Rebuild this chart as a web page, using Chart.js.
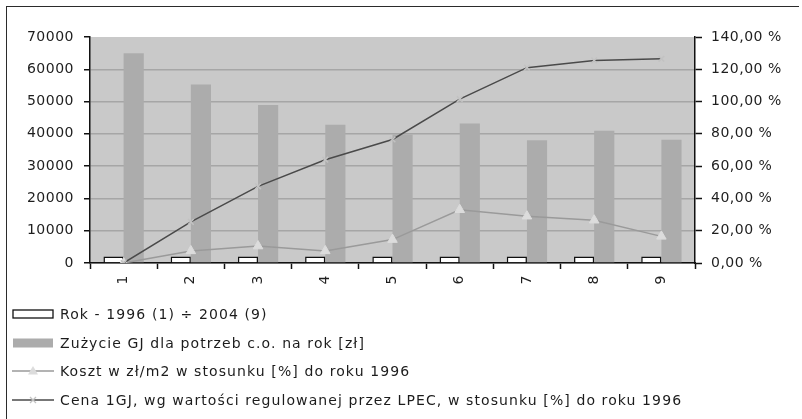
<!DOCTYPE html>
<html>
<head>
<meta charset="utf-8">
<script src="https://cdn.jsdelivr.net/npm/chart.js@4/dist/chart.umd.min.js"></script>
<style>
  html, body { margin: 0; padding: 0; background: #fff; }
  #wrap { position: relative; width: 802px; height: 419px; overflow: hidden; background: #fff; }
  #c { position: absolute; left: 0; top: 0; }
  #frame { position: absolute; left: 6px; top: 6px; width: 792px; height: 440px;
           border-top: 1.5px solid #2b2b2b; border-left: 1.5px solid #2b2b2b; pointer-events: none; }
  #legend { position: absolute; left: 12px; top: 300px; font: 14px "DejaVu Sans", sans-serif;
            letter-spacing: 1.1px; color: #1c1c1c; white-space: nowrap; }
  .row { display: flex; align-items: center; height: 28.6px; }
  .row svg { margin-right: 6px; flex: none; }
</style>
</head>
<body>
<div id="wrap">
  <canvas id="c" width="802" height="419"></canvas>
  <div id="frame"></div>
  <div id="legend"></div>
</div>
<script>
// Years 1996 (1) … 2004 (9)
const categories = ['1', '2', '3', '4', '5', '6', '7', '8', '9'];
const rokValues = [1996, 1997, 1998, 1999, 2000, 2001, 2002, 2003, 2004];
// Heating consumption per year (left axis)
const zuzycieValues = [65000, 55300, 48900, 42800, 39800, 43200, 38000, 41000, 38200];
// Percent relative to 1996 (right axis)
const kosztValues = [0, 7.5, 10.5, 7.5, 14.5, 33, 29, 26.5, 16.5];
const cenaValues = [0, 25.5, 47.5, 64, 76.5, 101.5, 121, 125.5, 126.5];

const leftTicks = [0, 10000, 20000, 30000, 40000, 50000, 60000, 70000];
const rightTicks = [0, 20, 40, 60, 80, 100, 120, 140];

const seriesLabels = [
  'Rok - 1996 (1) ÷ 2004 (9)',
  'Zużycie GJ dla potrzeb c.o. na rok [zł]',
  'Koszt w zł/m2 w stosunku [%] do roku 1996',
  'Cena 1GJ, wg wartości regulowanej przez LPEC, w stosunku [%] do roku 1996'
];

const textColor = '#1e1e1e';
const tickFont = { family: 'DejaVu Sans', size: 14 };

// Grey plot background and letter spacing for canvas text
const plotBackground = {
  id: 'plotBackground',
  beforeUpdate(chart) { chart.ctx.letterSpacing = '0.5px'; },
  beforeDraw(chart) {
    const { ctx, chartArea: a } = chart;
    ctx.letterSpacing = '0.5px';
    ctx.save();
    ctx.fillStyle = '#c9c9c9';
    ctx.fillRect(a.left, a.top, a.right - a.left, a.bottom - a.top);
    ctx.restore();
  }
};

const chart = new Chart(document.getElementById('c'), {
  type: 'bar',
  data: {
    labels: categories,
    datasets: [
      {
        type: 'bar', label: seriesLabels[0], data: rokValues, yAxisID: 'y',
        backgroundColor: '#ffffff', borderColor: '#111111', borderWidth: 1.5,
        categoryPercentage: 0.6, barPercentage: 1, order: 3
      },
      {
        type: 'bar', label: seriesLabels[1], data: zuzycieValues, yAxisID: 'y',
        backgroundColor: '#acacac', borderWidth: 0,
        categoryPercentage: 0.6, barPercentage: 1, order: 3
      },
      {
        type: 'line', label: seriesLabels[2], data: kosztValues, yAxisID: 'y1',
        borderColor: '#9a9a9a', borderWidth: 1.5, tension: 0,
        pointStyle: 'triangle', pointRadius: 5.5,
        pointBackgroundColor: '#dcdcdc', pointBorderColor: '#dcdcdc', pointBorderWidth: 1,
        order: 1
      },
      {
        type: 'line', label: seriesLabels[3], data: cenaValues, yAxisID: 'y1',
        borderColor: '#4a4a4a', borderWidth: 1.5, tension: 0,
        pointStyle: 'crossRot', pointRadius: 4,
        pointBorderColor: '#c2c2c2', pointBorderWidth: 1.5,
        order: 0
      }
    ]
  },
  options: {
    responsive: false,
    animation: false,
    devicePixelRatio: 1,
    layout: { padding: { left: 0, right: 0, top: 37, bottom: 126 } },
    plugins: { legend: { display: false }, tooltip: { enabled: false } },
    scales: {
      x: {
        grid: { offset: true, drawOnChartArea: false, tickLength: 6, tickColor: '#111', tickWidth: 1.5 },
        border: { color: '#111', width: 1.5 },
        ticks: { minRotation: 90, maxRotation: 90, padding: 6, font: tickFont, color: textColor },
        afterFit(s) { s.height = 30; }
      },
      y: {
        position: 'left', min: 0, max: 70000,
        afterBuildTicks(s) { s.ticks = leftTicks.map(v => ({ value: v })); },
        ticks: { padding: 10, font: tickFont, color: textColor, callback: v => String(v) },
        grid: {
          // no line along the top edge of the plot
          color: c => (c.tick && c.tick.value === 70000) ? 'rgba(0,0,0,0)' : '#a6a6a6',
          lineWidth: 1.5, tickColor: '#111', tickLength: 6, tickWidth: 1.5
        },
        border: { color: '#111', width: 1.5 },
        afterFit(s) { s.width = 90; }
      },
      y1: {
        position: 'right', min: 0, max: 140,
        afterBuildTicks(s) { s.ticks = rightTicks.map(v => ({ value: v })); },
        ticks: { padding: 9, font: tickFont, color: textColor,
                 callback: v => v.toFixed(2).replace('.', ',') + ' %' },
        grid: { drawOnChartArea: false, tickColor: '#111', tickLength: 7, tickWidth: 1.5 },
        border: { color: '#111', width: 1.5 },
        afterFit(s) { s.width = 107; }
      }
    }
  },
  plugins: [plotBackground]
});

// Legend, one entry per row, built from the dataset styles
const symbols = [
  '<rect x="1" y="3" width="40" height="8" fill="#fff" stroke="#111" stroke-width="1.3"/>',
  '<rect x="1" y="2.5" width="40" height="9" fill="#acacac"/>',
  '<line x1="0" y1="7" x2="42" y2="7" stroke="#9a9a9a" stroke-width="1.3"/>' +
    '<polygon points="21,2 26,10.5 16,10.5" fill="#dcdcdc"/>',
  '<line x1="0" y1="7" x2="42" y2="7" stroke="#4a4a4a" stroke-width="1.3"/>' +
    '<path d="M18 4 L24 10 M24 4 L18 10" stroke="#c2c2c2" stroke-width="1.3"/>'
];
const legendEl = document.getElementById('legend');
chart.data.datasets.forEach((ds, i) => {
  const row = document.createElement('div');
  row.className = 'row';
  row.innerHTML = '<svg width="42" height="14" viewBox="0 0 42 14">' + symbols[i] + '</svg>';
  const span = document.createElement('span');
  span.textContent = ds.label;
  row.appendChild(span);
  legendEl.appendChild(row);
});
</script>
</body>
</html>
